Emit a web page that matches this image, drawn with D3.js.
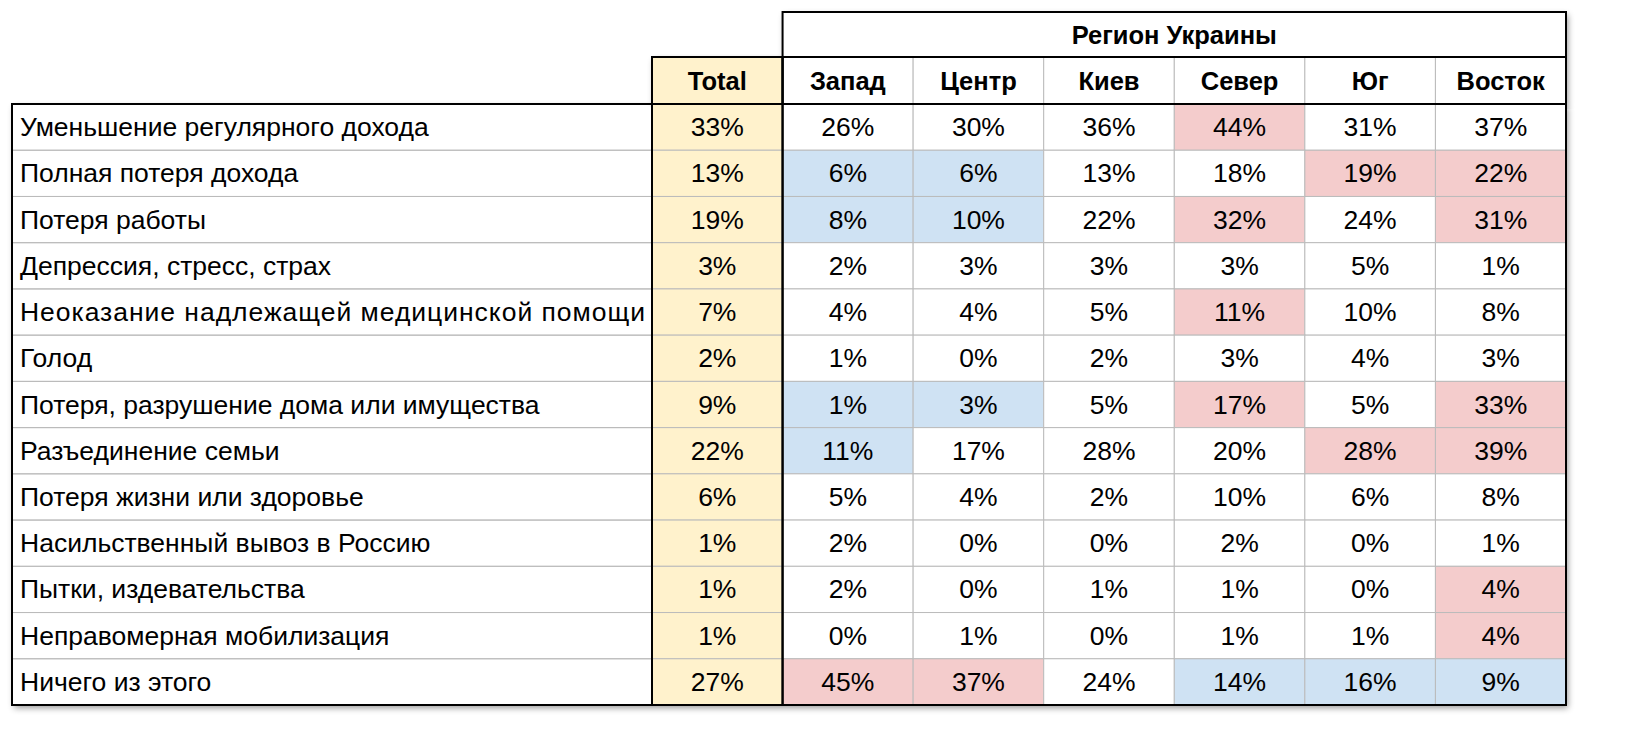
<!DOCTYPE html>
<html><head><meta charset="utf-8">
<script src="https://cdn.jsdelivr.net/npm/d3@7"></script>
<style>body{margin:0;background:#fff}text{font-family:"Liberation Sans",Arial,sans-serif}</style>
</head><body><svg id="c" width="1630" height="746"></svg>
<script>
const rowLabels=["Уменьшение регулярного дохода","Полная потеря дохода","Потеря работы","Депрессия, стресс, страх","Неоказание надлежащей медицинской помощи","Голод","Потеря, разрушение дома или имущества","Разъединение семьи","Потеря жизни или здоровье","Насильственный вывоз в Россию","Пытки, издевательства","Неправомерная мобилизация","Ничего из этого"];
const columns=["Total","Запад","Центр","Киев","Север","Юг","Восток"];
const groupTitle="Регион Украины";
const values=[
[33,26,30,36,44,31,37],[13,6,6,13,18,19,22],[19,8,10,22,32,24,31],[3,2,3,3,3,5,1],
[7,4,4,5,11,10,8],[2,1,0,2,3,4,3],[9,1,3,5,17,5,33],[22,11,17,28,20,28,39],
[6,5,4,2,10,6,8],[1,2,0,0,2,0,1],[1,2,0,1,1,0,4],[1,0,1,0,1,1,4],[27,45,37,24,14,16,9]];
const highlights=[
"....r..",".bb..rr",".bb.r.r",".......","....r..",".......",".bb.r.r",
".b...rr",".......",".......","......r","......r",".rr.bbb"];
const fills={r:"#f4cccc",b:"#cfe2f3",".":"#fff"};
const svg=d3.select("#c");
const L=12,LR=652,R=1566,T0=12,T1=57,T2=104,B=705;
const FS=26.5;
const x=d3.scaleBand().domain(columns).range([LR,R]);
const y=d3.scaleBand().domain(d3.range(rowLabels.length)).range([T2,B]);
const defs=svg.append("defs");
const f=defs.append("filter").attr("id","sh").attr("x","-5%").attr("y","-5%").attr("width","110%").attr("height","110%");
f.append("feDropShadow").attr("dx",2).attr("dy",3).attr("stdDeviation",3).attr("flood-opacity",0.4);
svg.append("rect").attr("x",L).attr("y",T2).attr("width",R-L).attr("height",B-T2).attr("fill","#fff").attr("filter","url(#sh)");
svg.append("rect").attr("x",x("Запад")).attr("y",T0).attr("width",R-x("Запад")).attr("height",T2-T0).attr("fill","#fff").attr("filter","url(#sh)");
svg.append("rect").attr("x",LR).attr("y",T1).attr("width",x.bandwidth()).attr("height",T2-T1).attr("fill","#fff2cc").attr("filter","url(#sh)");
const g=svg.append("g");
rowLabels.forEach((lab,i)=>{
  columns.forEach((c,j)=>{
    const fill=j===0?"#fff2cc":fills[highlights[i][j]];
    g.append("rect").attr("x",x(c)).attr("y",y(i)).attr("width",x.bandwidth()).attr("height",y.bandwidth()).attr("fill",fill).attr("stroke","#bbb").attr("stroke-width",1);
    g.append("text").attr("x",x(c)+x.bandwidth()/2).attr("y",y(i)+y.bandwidth()/2+9).attr("text-anchor","middle").attr("font-size",FS).text(values[i][j]+"%");
  });
  g.append("rect").attr("x",L).attr("y",y(i)).attr("width",LR-L).attr("height",y.bandwidth()).attr("fill","none").attr("stroke","#bbb");
  g.append("text").attr("x",L+8).attr("y",y(i)+y.bandwidth()/2+9).attr("font-size",FS).attr("textLength",lab===rowLabels[4]?625:null).text(lab);
});
columns.forEach((c,j)=>{
  g.append("rect").attr("x",x(c)).attr("y",T1).attr("width",x.bandwidth()).attr("height",T2-T1).attr("fill",j===0?"#fff2cc":"#fff").attr("stroke","#bbb");
  g.append("text").attr("x",x(c)+x.bandwidth()/2).attr("y",T1+33).attr("text-anchor","middle").attr("font-size",FS-1).attr("font-weight","bold").text(c);
});
g.append("text").attr("x",(x("Запад")+R)/2).attr("y",T0+32).attr("text-anchor","middle").attr("font-size",FS-1).attr("font-weight","bold").text(groupTitle);
const s=(x1,y1,x2,y2)=>g.append("line").attr("x1",x1).attr("y1",y1).attr("x2",x2).attr("y2",y2).attr("stroke","#000").attr("stroke-width",2);
g.append("rect").attr("x",L).attr("y",T2).attr("width",R-L).attr("height",B-T2).attr("fill","none").attr("stroke","#000").attr("stroke-width",2);
g.append("rect").attr("x",x("Запад")).attr("y",T0).attr("width",R-x("Запад")).attr("height",T2-T0).attr("fill","none").attr("stroke","#000").attr("stroke-width",2);
g.append("rect").attr("x",LR).attr("y",T1).attr("width",x.bandwidth()).attr("height",B-T1).attr("fill","none").attr("stroke","#000").attr("stroke-width",2);
s(x("Запад"),T1,R,T1);
s(x("Запад"),T1,x("Запад"),B);
</script></body></html>
